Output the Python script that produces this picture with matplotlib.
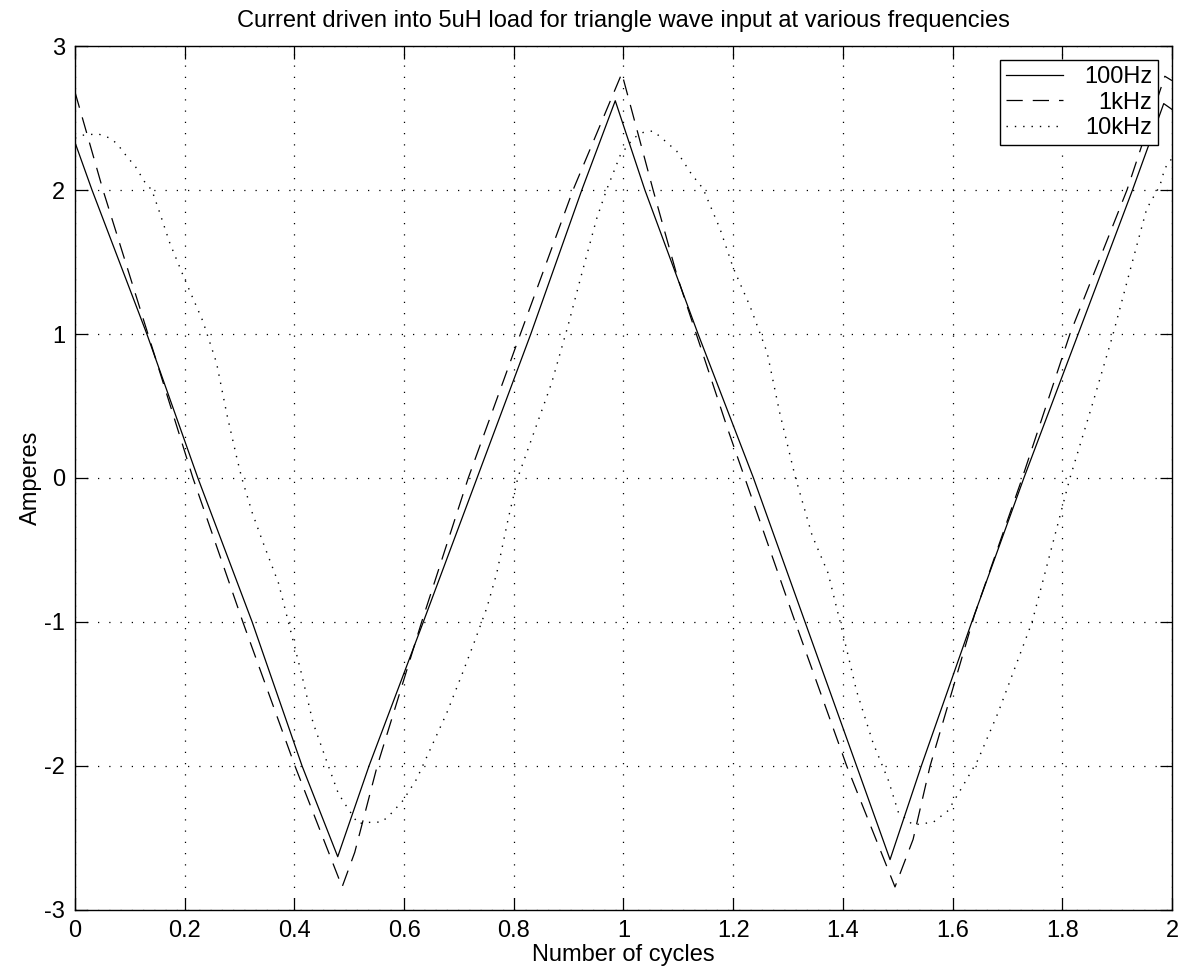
import numpy as np
import matplotlib
matplotlib.use('Agg')
import matplotlib.pyplot as plt

plt.rcParams['font.family'] = ['Liberation Sans', 'DejaVu Sans']
plt.rcParams['axes.unicode_minus'] = False

# 100Hz (solid)
x_100 = [0.0, 0.031, 0.131, 0.224, 0.323, 0.414, 0.479, 0.536, 0.635, 0.733,
         0.831, 0.924, 0.985, 1.039, 1.136, 1.237, 1.331, 1.425, 1.486, 1.543,
         1.635, 1.730, 1.829, 1.928, 1.985, 2.0]
y_100 = [2.33, 2.0, 1.0, 0.0, -1.0, -2.0, -2.63, -2.0, -1.0, 0.0,
         1.0, 2.0, 2.62, 2.0, 1.0, 0.0, -1.0, -2.0, -2.65, -2.0,
         -1.0, 0.0, 1.0, 2.0, 2.6, 2.56]

# 1kHz (dashed)
x_1k = [0.0, 0.051, 0.133, 0.215, 0.306, 0.401, 0.487, 0.51, 0.551, 0.632,
        0.717, 0.812, 0.908, 0.997, 1.054, 1.098, 1.19, 1.313, 1.407, 1.495,
        1.528, 1.559, 1.64, 1.727, 1.814, 1.918, 1.987, 2.0]
y_1k = [2.68, 2.0, 1.0, 0.0, -1.0, -2.0, -2.84, -2.6, -2.0, -1.0,
        0.0, 1.0, 2.0, 2.81, 2.0, 1.40, 0.34, -1.0, -2.0, -2.84,
        -2.51, -2.0, -0.95, 0.0, 1.0, 2.0, 2.79, 2.76]

# 10kHz (dotted)
x_10k = [0.0, 0.012, 0.042, 0.064, 0.077, 0.097, 0.109, 0.128, 0.140, 0.152,
         0.173, 0.200, 0.233, 0.258, 0.277, 0.295, 0.304, 0.323, 0.342, 0.371,
         0.389, 0.413, 0.434, 0.461, 0.480, 0.495, 0.516, 0.541, 0.559, 0.574,
         0.598, 0.623, 0.647, 0.678, 0.707, 0.729, 0.751, 0.769, 0.790, 0.808,
         0.869, 0.899, 0.924, 0.951, 0.969, 0.994, 1.018, 1.036, 1.054, 1.070,
         1.097, 1.124, 1.145, 1.176, 1.200, 1.231, 1.262, 1.285, 1.313, 1.344,
         1.373, 1.395, 1.425, 1.455, 1.483, 1.501, 1.528, 1.565, 1.592, 1.617,
         1.646, 1.683, 1.745, 1.814, 1.854, 1.892, 1.927, 1.954, 1.978, 1.987,
         2.0]
y_10k = [2.36, 2.38, 2.39, 2.36, 2.32, 2.22, 2.17, 2.05, 2.0, 1.87,
         1.63, 1.38, 1.09, 0.80, 0.44, 0.14, 0.0, -0.24, -0.44, -0.73,
         -1.0, -1.36, -1.70, -1.99, -2.19, -2.28, -2.40, -2.39, -2.39, -2.34,
         -2.24, -2.09, -1.89, -1.63, -1.35, -1.13, -0.90, -0.66, -0.28, 0.01,
         0.66, 1.06, 1.42, 1.80, 2.0, 2.24, 2.36, 2.40, 2.41, 2.36,
         2.27, 2.11, 2.01, 1.73, 1.46, 1.19, 0.87, 0.45, 0.01, -0.40,
         -0.66, -1.0, -1.48, -1.84, -2.10, -2.32, -2.41, -2.39, -2.31, -2.15,
         -1.96, -1.63, -1.0, 0.0, 0.50, 0.99, 1.49, 1.87, 2.03, 2.15,
         2.22]

fig = plt.figure(figsize=(11.85, 9.75), dpi=100)
ax = fig.add_axes([0.0633, 0.0667, 0.9257, 0.8861])

ax.plot(x_100, y_100, color='black', linestyle='-', linewidth=0.9, label='100Hz')
ax.plot(x_1k, y_1k, color='black', linestyle=(0, (13, 8)), linewidth=0.9, label='1kHz')
ax.plot(x_10k, y_10k, color='black', linestyle=(0, (1, 5)), linewidth=1.0, label='10kHz')

ax.set_xlim(0, 2)
ax.set_ylim(-3, 3)
ax.set_xticks(np.arange(0, 2.01, 0.2))
ax.set_xticklabels(['0', '0.2', '0.4', '0.6', '0.8', '1', '1.2', '1.4', '1.6', '1.8', '2'])
ax.set_yticks(np.arange(-3, 3.01, 1))
ax.grid(True, color='black', linestyle=(0, (1, 8)), linewidth=0.9)
ax.tick_params(direction='in', length=9, width=0.9, top=True, right=True,
               labelsize=17, pad=7, colors='black')
for s in ax.spines.values():
    s.set_linewidth(1.0)

ax.set_title('Current driven into 5uH load for triangle wave input at various frequencies',
             fontsize=17, pad=14)
ax.set_xlabel('Number of cycles', fontsize=17, labelpad=2)
ax.set_ylabel('Amperes', fontsize=17, labelpad=2)

leg = ax.legend(loc='upper right', fontsize=17, frameon=True, fancybox=False,
                handlelength=2.4, borderpad=0.25, labelspacing=0.15,
                borderaxespad=0.6, handletextpad=0.9)
leg.get_frame().set_edgecolor('black')
leg.get_frame().set_linewidth(1.0)
leg.get_frame().set_alpha(1.0)

# right-align legend labels like MATLAB
renderer = fig.canvas.get_renderer()
widths = [t.get_window_extent(renderer).width for t in leg.get_texts()]
wmax = max(widths)
for t, w in zip(leg.get_texts(), widths):
    t.set_position((wmax - w, 0))

fig.savefig('out.png', dpi=100)
